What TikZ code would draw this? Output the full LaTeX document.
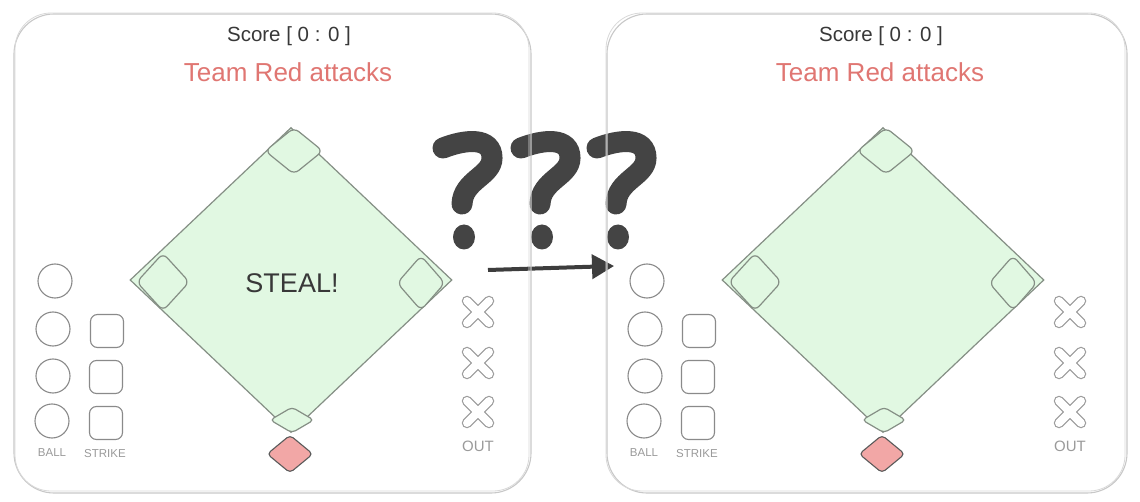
\documentclass[tikz,border=0pt]{standalone}
\usepackage{fontspec}
\setmainfont{Liberation Sans}
\usetikzlibrary{arrows.meta,shapes.geometric}
\definecolor{frame}{HTML}{C8C8C8}
\definecolor{txt}{HTML}{383838}
\definecolor{teamred}{HTML}{E07672}
\definecolor{fieldfill}{HTML}{E1F8E2}
\definecolor{fieldline}{HTML}{858F85}
\definecolor{platefill}{HTML}{F2A7A6}
\definecolor{plateline}{HTML}{5A5A5A}
\definecolor{markgray}{HTML}{8A8A8A}
\definecolor{labelgray}{HTML}{9A9A9A}
\definecolor{qmark}{HTML}{444444}
\tikzset{
  panelframe/.style={draw=frame, line width=1.1pt, rounded corners=40pt},
  panelframe2/.style={draw=frame!70, line width=0.8pt, rounded corners=36pt},
  field/.style={diamond, draw=fieldline, fill=fieldfill, line width=1.2pt, inner sep=0pt},
  basebox/.style={diamond, draw=fieldline, fill=fieldfill, line width=1.2pt, rounded corners=6pt, inner sep=0pt},
  plate/.style={diamond, draw=plateline, fill=platefill, line width=1.1pt, rounded corners=4pt, inner sep=0pt, minimum width=46pt, minimum height=38pt},
  ballbox/.style={circle, draw=markgray, line width=1.1pt, minimum size=34pt, inner sep=0pt},
  strikebox/.style={rectangle, draw=markgray, line width=1.1pt, rounded corners=7pt, minimum size=33pt, inner sep=0pt},
  smalllabel/.style={text=labelgray, font=\fontsize{11.5}{13}\selectfont, inner sep=0pt},
  outlabel/.style={text=labelgray, font=\fontsize{15}{17}\selectfont, inner sep=0pt},
  scoretext/.style={text=txt, font=\fontsize{20.5}{24}\selectfont, inner sep=0pt},
  teamtext/.style={text=teamred, font=\fontsize{26}{30}\selectfont, inner sep=0pt},
  stealtext/.style={text=txt, font=\fontsize{27}{30}\selectfont, inner sep=0pt},
  xouter/.style={draw=markgray!85, line width=10.5pt, line cap=round},
  xinner/.style={draw=white, line width=8pt, line cap=round},
  qstroke/.style={draw=qmark, line width=21pt, line cap=round},
  qdot/.style={fill=qmark},
  stealarrow/.style={draw=qmark!90!black, line width=4pt, -{Triangle[length=22pt,width=24pt]}},
}
\newcommand{\outmark}[2]{%
  \draw[xouter] (#1-11,#2-11) -- (#1+11,#2+11);
  \draw[xouter] (#1-11,#2+11) -- (#1+11,#2-11);
  \draw[xinner] (#1-11,#2-11) -- (#1+11,#2+11);
  \draw[xinner] (#1-11,#2+11) -- (#1+11,#2-11);
}
\newcommand{\qmarkat}[1]{%
  \begin{scope}[xshift=#1pt]
    \draw[qstroke] (443,148) .. controls (466,139) and (492,137) .. (492,158)
                   .. controls (492,176) and (463,180) .. (462,204);
    \fill[qdot] (464,237) ellipse [x radius=11, y radius=12.5];
  \end{scope}
}
\newcommand{\drawpanel}[1]{%
  \node[scoretext] (score) at (289,36) {Score [ 0 : 0 ]};
  \node[teamtext] (team) at (288,72) {Team Red attacks};
  \node[field, minimum width=322pt, minimum height=305pt] (field) at (291,280) {};
  \node[stealtext] (steal) at (292,283) {#1};
  \node[basebox, minimum width=58pt, minimum height=47pt] (second) at (294,151) {};
  \node[basebox, minimum width=53pt, minimum height=58pt] (third) at (163,282) {};
  \node[basebox, minimum width=48pt, minimum height=55pt] (first) at (421,283) {};
  \node[basebox, minimum width=44pt, minimum height=26pt, rounded corners=4pt] (home) at (292,420) {};
  \node[plate] (batter) at (290,454) {};
  \node[ballbox] (ball1) at (55,281) {};
  \node[ballbox] (ball2) at (53,329) {};
  \node[ballbox] (ball3) at (53,376) {};
  \node[ballbox] (ball4) at (52,421) {};
  \node[strikebox] (strike1) at (107,331) {};
  \node[strikebox] (strike2) at (106,377) {};
  \node[strikebox] (strike3) at (106,423) {};
  \node[smalllabel] (balllabel) at (52,453) {BALL};
  \node[smalllabel] (strikelabel) at (105,454) {STRIKE};
  \outmark{478}{312}
  \outmark{478}{363}
  \outmark{478}{412}
  \node[outlabel] (outlabel) at (478,446) {OUT};
}
\begin{document}
\begin{tikzpicture}[x=1pt,y=-1pt]
  \useasboundingbox (0,0) rectangle (1140,502);
  \fill[white] (0,0) rectangle (1140,502);
  % question marks
  \qmarkat{0}
  \qmarkat{78}
  \qmarkat{154}
  % arrow
  \coordinate (arrowstart) at (488,270);
  \coordinate (arrowend) at (614,266);
  \draw[stealarrow] (arrowstart) -- (arrowend);
  % left panel
  \draw[panelframe] (14,14) rectangle (531,493);
  \draw[panelframe2] (15,13) rectangle (529,491);
  \begin{scope}[name prefix=L-]
    \drawpanel{STEAL!}
  \end{scope}
  % right panel
  \draw[panelframe] (607,14) rectangle (1127,493);
  \draw[panelframe2] (606,13) rectangle (1125,491);
  \begin{scope}[shift={(592,0)}, name prefix=R-]
    \drawpanel{}
  \end{scope}
\end{tikzpicture}
\end{document}
